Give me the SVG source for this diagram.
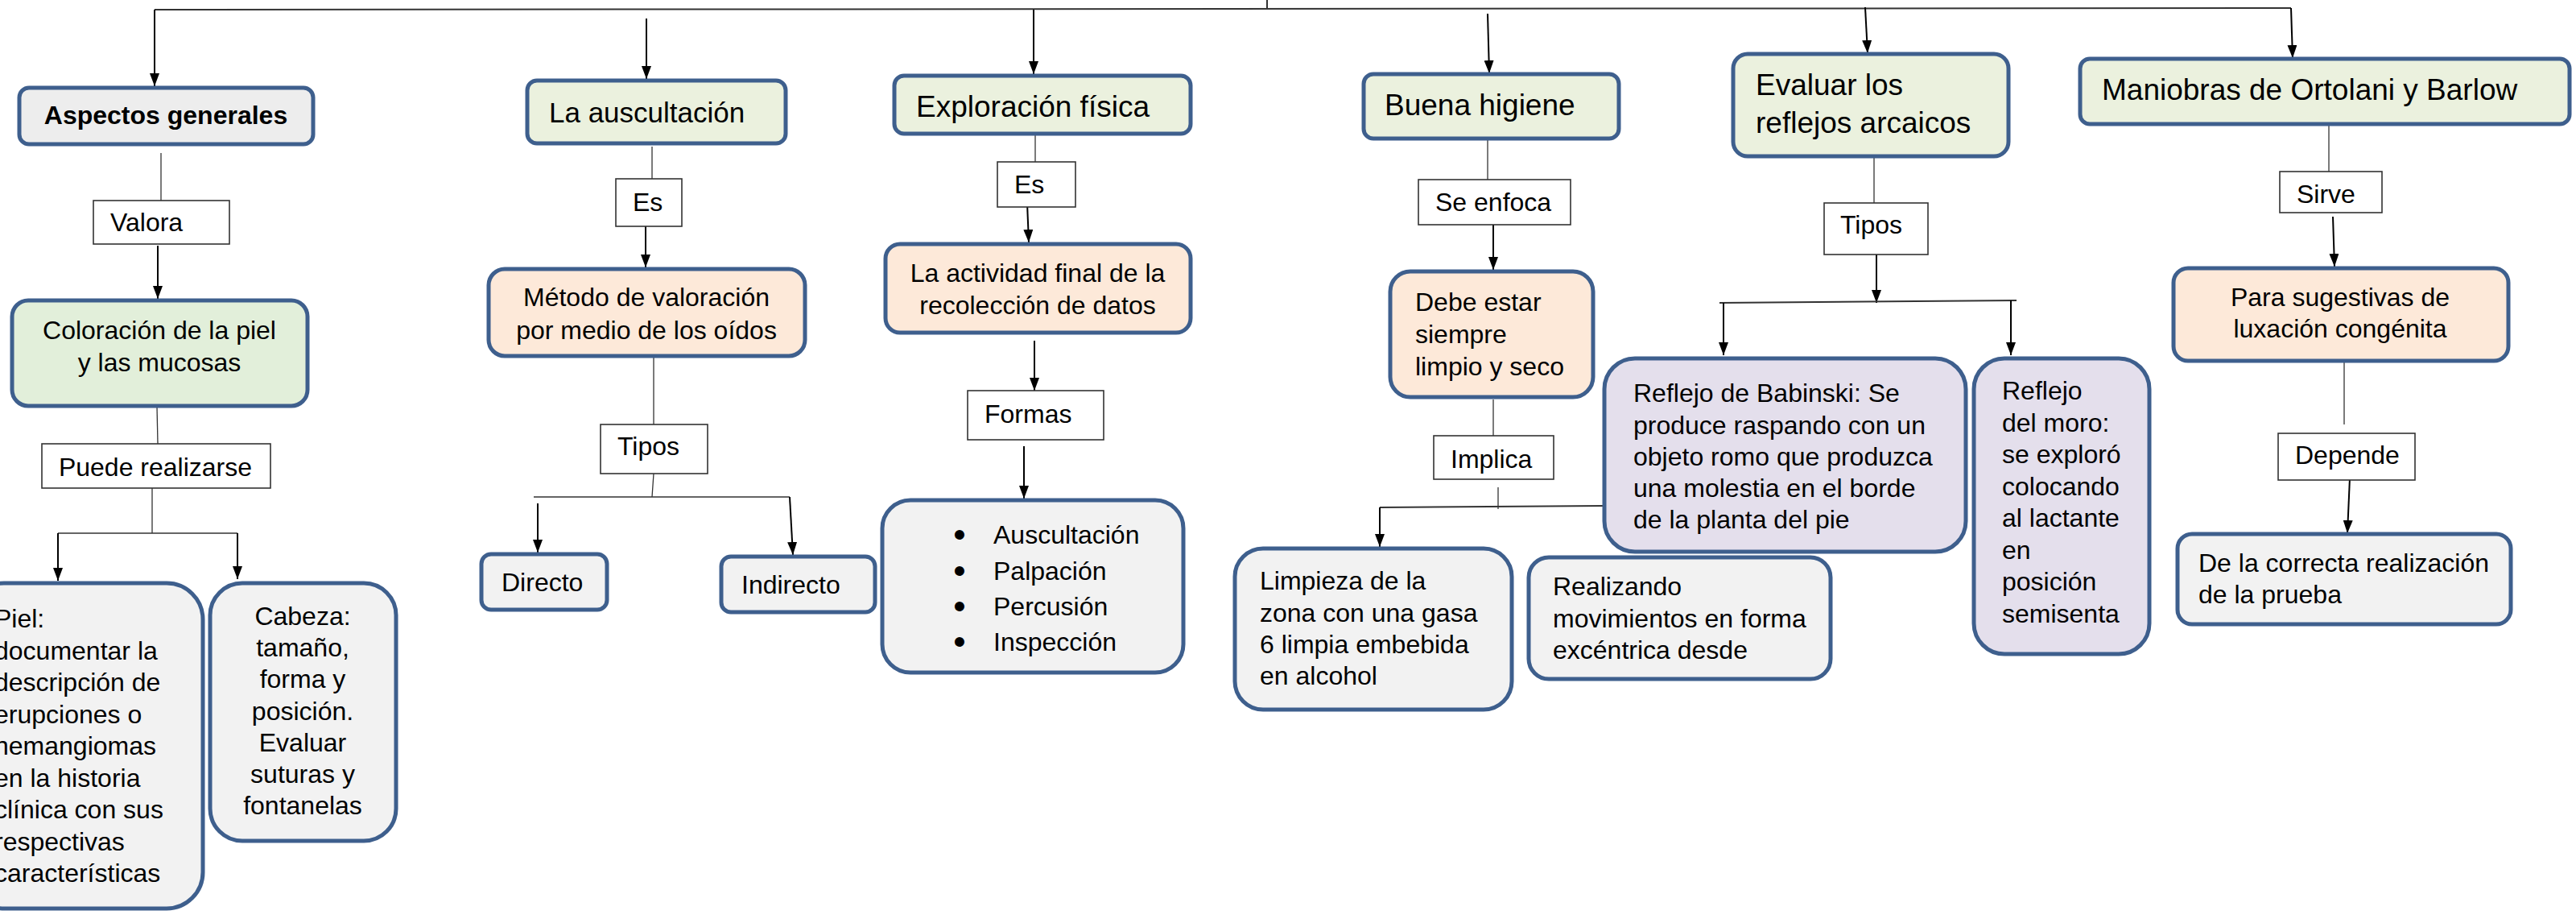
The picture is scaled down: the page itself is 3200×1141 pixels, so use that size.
<svg xmlns="http://www.w3.org/2000/svg" width="3200" height="1141" viewBox="0 0 3200 1141">
<defs>
<marker id="ah" viewBox="0 0 16 12" refX="16" refY="6" markerWidth="16" markerHeight="12" markerUnits="userSpaceOnUse" orient="auto">
<path d="M0,0 L16,6 L0,12 z" fill="#000"/>
</marker>
<style>
.nd{stroke:#3E5F8D;stroke-width:5}
.g{fill:#EDEDED}
.gr{fill:#EBF1DE}
.gr2{fill:#E2EFDA}
.pe{fill:#FDE9D9}
.la{fill:#E4DFEC}
.lg{fill:#F2F2F2}
.lb{fill:#fff;stroke:#333;stroke-width:1.6}
text{font-family:"Liberation Sans",Arial,sans-serif;font-size:32px;fill:#000}
.t37{font-size:37px}
.t35{font-size:35px}
.c{text-anchor:middle}
.b{font-weight:bold}
.bu{font-size:44px;text-anchor:middle}
.ar{stroke:#000;stroke-width:2;fill:none;marker-end:url(#ah)}
.ln{stroke:#333;stroke-width:1.3;fill:none}
.tl{stroke:#333;stroke-width:2;fill:none}
</style>
</defs>
<rect width="3200" height="1141" fill="#fff"/>

<g id="connectors">
<path class="tl" d="M1574,0 V11"/>
<path class="tl" d="M192,12 L2846,10"/>
<path class="ar" d="M192,12 V107"/>
<path class="ar" d="M803,23 V98"/>
<path class="ar" d="M1284,12 V92"/>
<path class="ar" d="M1848,17 L1850,91"/>
<path class="ar" d="M2317,9 L2320,66"/>
<path class="ar" d="M2846,10 L2848,72"/>
<path class="ln" d="M200,190 V249"/>
<path class="ar" d="M196,305 V371"/>
<path class="ln" d="M195,505 L196,551"/>
<path class="ln" d="M189,606 V662 M72,662 H295"/>
<path class="ar" d="M72,662 V721"/>
<path class="ar" d="M295,662 V719"/>
<path class="ln" d="M810,182 V222"/>
<path class="ar" d="M802,276 V332"/>
<path class="ln" d="M812,443 V527"/>
<path class="ln" d="M812,588 L810,617 M663,617 H981"/>
<path class="ar" d="M668,625 V686"/>
<path class="ar" d="M981,617 L985,689"/>
<path class="ln" d="M1286,160 V201"/>
<path class="ar" d="M1276,252 L1278,301"/>
<path class="ar" d="M1285,423 V485"/>
<path class="ar" d="M1272,554 V619"/>
<path class="ln" d="M1848,170 V223"/>
<path class="ar" d="M1855,279 V335"/>
<path class="ln" d="M1855,496 V541"/>
<path class="ln" d="M1861,605 V632"/>
<path class="tl" d="M1714,630 L1993,628"/>
<path class="ar" d="M1714,630 V679"/>
<path class="ln" d="M2328,196 V252"/>
<path class="ar" d="M2331,304 V376"/>
<path class="tl" d="M2136,376 L2505,373"/>
<path class="ar" d="M2141,376 V441"/>
<path class="ar" d="M2498,373 V441"/>
<path class="ln" d="M2893,156 V224"/>
<path class="ar" d="M2898,269 L2900,331"/>
<path class="ln" d="M2912,450 V527"/>
<path class="ar" d="M2919,593 L2916,662"/>
</g>

<g id="n-aspectos"><rect class="nd g" x="24" y="109" width="365" height="70" rx="12"/><text class="b c" x="206" y="154">Aspectos generales</text></g>
<g id="n-auscultacion"><rect class="nd gr" x="655" y="100" width="321" height="78" rx="12"/><text class="t35" x="682" y="152">La auscultación</text></g>
<g id="n-exploracion"><rect class="nd gr" x="1111" y="94" width="368" height="72" rx="12"/><text class="t37" x="1138" y="145">Exploración física</text></g>
<g id="n-higiene"><rect class="nd gr" x="1694" y="92" width="317" height="80" rx="12"/><text class="t37" x="1720" y="143">Buena higiene</text></g>
<g id="n-evaluar"><rect class="nd gr" x="2153" y="67" width="342" height="127" rx="18"/><text class="t37" x="2181" y="118">Evaluar los</text><text class="t37" x="2181" y="165">reflejos arcaicos</text></g>
<g id="n-maniobras"><rect class="nd gr" x="2584" y="73" width="608" height="81" rx="12"/><text class="t37" x="2611" y="124">Maniobras de Ortolani y Barlow</text></g>

<g id="l-valora"><rect class="lb" x="116" y="249" width="169" height="54"/><text x="137" y="287">Valora</text></g>
<g id="l-es1"><rect class="lb" x="765" y="222" width="82" height="59"/><text x="786" y="262">Es</text></g>
<g id="l-es2"><rect class="lb" x="1239" y="201" width="97" height="56"/><text x="1260" y="240">Es</text></g>
<g id="l-seenfoca"><rect class="lb" x="1762" y="223" width="189" height="56"/><text x="1783" y="262">Se enfoca</text></g>
<g id="l-tipos2"><rect class="lb" x="2266" y="252" width="129" height="64"/><text x="2286" y="290">Tipos</text></g>
<g id="l-sirve"><rect class="lb" x="2832" y="213" width="127" height="51"/><text x="2853" y="252">Sirve</text></g>

<g id="n-coloracion"><rect class="nd gr2" x="15" y="373" width="367" height="131" rx="20"/><text class="c" x="198" y="421">Coloración de la piel</text><text class="c" x="198" y="461">y las mucosas</text></g>
<g id="n-metodo"><rect class="nd pe" x="607" y="334" width="393" height="108" rx="20"/><text class="c" x="803" y="380">Método de valoración</text><text class="c" x="803" y="421">por medio de los oídos</text></g>
<g id="n-actividad"><rect class="nd pe" x="1100" y="303" width="379" height="110" rx="18"/><text class="c" x="1289" y="350">La actividad final de la</text><text class="c" x="1289" y="390">recolección de datos</text></g>
<g id="n-debe"><rect class="nd pe" x="1727" y="337" width="252" height="156" rx="25"/><text x="1758" y="386">Debe estar</text><text x="1758" y="426">siempre</text><text x="1758" y="466">limpio y seco</text></g>
<g id="n-para"><rect class="nd pe" x="2700" y="333" width="416" height="115" rx="18"/><text class="c" x="2907" y="380">Para sugestivas de</text><text class="c" x="2907" y="419">luxación congénita</text></g>

<g id="l-puede"><rect class="lb" x="52" y="551" width="284" height="55"/><text class="c" x="193" y="591">Puede realizarse</text></g>
<g id="l-tipos1"><rect class="lb" x="746" y="527" width="133" height="61"/><text x="767" y="565">Tipos</text></g>
<g id="l-formas"><rect class="lb" x="1202" y="485" width="169" height="61"/><text x="1223" y="525">Formas</text></g>
<g id="l-implica"><rect class="lb" x="1781" y="541" width="149" height="54"/><text x="1802" y="581">Implica</text></g>
<g id="l-depende"><rect class="lb" x="2830" y="538" width="170" height="58"/><text x="2851" y="576">Depende</text></g>

<g id="n-piel"><rect class="nd lg" x="-40" y="724" width="292" height="404" rx="45"/>
<text x="-7" y="779">Piel:</text><text x="-7" y="818.5">documentar la</text><text x="-7" y="858">descripción de</text><text x="-7" y="897.5">erupciones o</text><text x="-7" y="937">hemangiomas</text><text x="-7" y="976.5">en la historia</text><text x="-7" y="1016">clínica con sus</text><text x="-7" y="1055.5">respectivas</text><text x="-7" y="1095">características</text></g>
<g id="n-cabeza"><rect class="nd lg" x="261" y="724" width="231" height="320" rx="40"/>
<text class="c" x="376" y="776">Cabeza:</text><text class="c" x="376" y="815">tamaño,</text><text class="c" x="376" y="854">forma y</text><text class="c" x="376" y="894">posición.</text><text class="c" x="376" y="933">Evaluar</text><text class="c" x="376" y="972">suturas y</text><text class="c" x="376" y="1011">fontanelas</text></g>
<g id="n-directo"><rect class="nd lg" x="598" y="688" width="156" height="69" rx="12"/><text x="623" y="734">Directo</text></g>
<g id="n-indirecto"><rect class="nd lg" x="896" y="691" width="191" height="69" rx="12"/><text x="921" y="737">Indirecto</text></g>
<g id="n-formas"><rect class="nd lg" x="1096" y="621" width="374" height="214" rx="35"/>
<text class="bu" x="1192" y="679">•</text><text x="1234" y="675">Auscultación</text>
<text class="bu" x="1192" y="724">•</text><text x="1234" y="720">Palpación</text>
<text class="bu" x="1192" y="768">•</text><text x="1234" y="764">Percusión</text>
<text class="bu" x="1192" y="812">•</text><text x="1234" y="808">Inspección</text></g>
<g id="n-limpieza"><rect class="nd lg" x="1534" y="681" width="344" height="200" rx="35"/><text x="1565" y="732">Limpieza de la</text><text x="1565" y="772">zona con una gasa</text><text x="1565" y="811">6 limpia embebida</text><text x="1565" y="850">en alcohol</text></g>
<g id="n-realizando"><rect class="nd lg" x="1899" y="692" width="375" height="151" rx="25"/><text x="1929" y="739">Realizando</text><text x="1929" y="779">movimientos en forma</text><text x="1929" y="818">excéntrica desde</text></g>
<g id="n-babinski"><rect class="nd la" x="1993" y="445" width="449" height="240" rx="38"/><text x="2029" y="499">Reflejo de Babinski: Se</text><text x="2029" y="539">produce raspando con un</text><text x="2029" y="578">objeto romo que produzca</text><text x="2029" y="617">una molestia en el borde</text><text x="2029" y="656">de la planta del pie</text></g>
<g id="n-moro"><rect class="nd la" x="2452" y="445" width="218" height="367" rx="38"/><text x="2487" y="496">Reflejo</text><text x="2487" y="535.5">del moro:</text><text x="2487" y="575">se exploró</text><text x="2487" y="614.5">colocando</text><text x="2487" y="654">al lactante</text><text x="2487" y="693.5">en</text><text x="2487" y="733">posición</text><text x="2487" y="772.5">semisenta</text></g>
<g id="n-correcta"><rect class="nd lg" x="2705" y="663" width="414" height="112" rx="18"/><text x="2731" y="710">De la correcta realización</text><text x="2731" y="749">de la prueba</text></g>
</svg>
